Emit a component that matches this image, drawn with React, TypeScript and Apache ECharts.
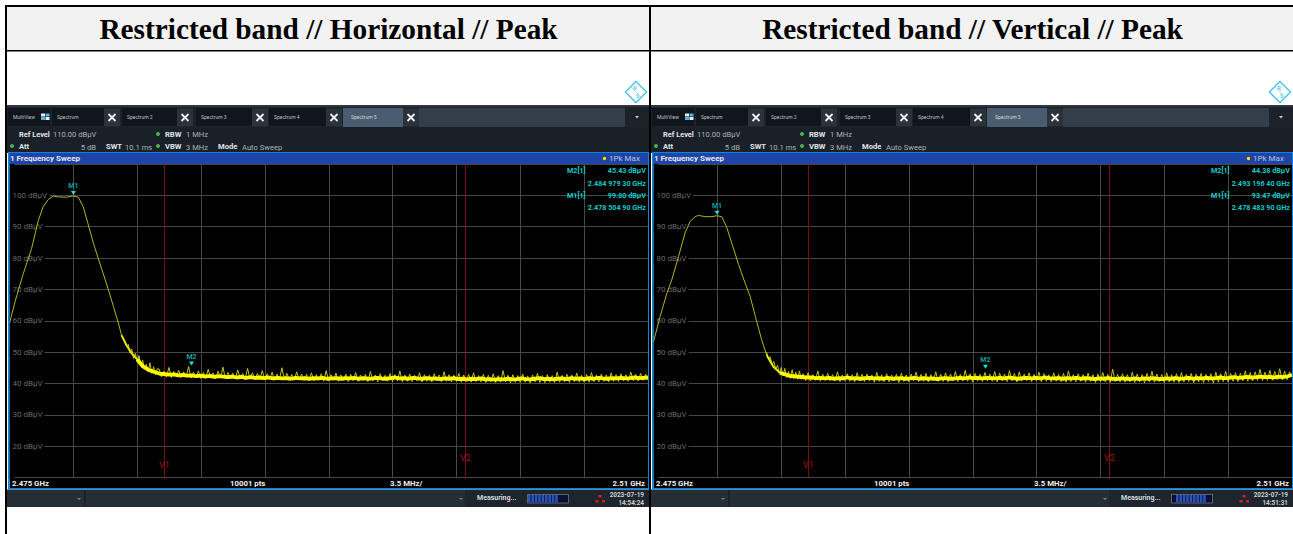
import React, { useEffect, useRef } from "react";
import * as echarts from "echarts";

const yTicks = [20, 30, 40, 50, 60, 70, 80, 90, 100];
const v1Mhz = 8.5;
const v2Mhz = 25;

// Left panel: slow thin part of the trace
const leftTraceMhz = [0, 0.1, 0.3, 0.76, 1.21, 1.58, 1.85, 2.13, 2.4, 2.67, 3.13, 3.46, 3.77, 4.04, 4.3, 4.6, 4.86, 5.14, 5.4, 5.7, 6, 6.14];
const leftTraceDb = [59.1, 61.5, 66, 75.1, 83, 92, 96.4, 98.7, 99.8, 99.5, 99.4, 99.8, 99.4, 96.4, 91, 84.7, 80, 75, 70.3, 64.5, 58.6, 55.4];
const leftTailMhz = [6.14, 6.41, 6.7, 7, 7.3, 7.6, 7.87, 8.25];
const leftTailDb = [55.4, 52.2, 49.6, 47.7, 45.5, 44.4, 43.8, 43.1];
const leftTailSpikeMhz = [6.5, 6.6, 6.7, 6.8, 6.9, 7, 7.1, 7.2, 7.3, 7.4, 7.5, 7.6, 7.7, 7.8, 7.9, 8, 8.1];
const leftTailSpikeDb = [52.6, 49.8, 51, 48, 49.6, 46.8, 48.9, 45.6, 47.4, 44.6, 46.1, 43.8, 46.6, 43.2, 45.3, 42.7, 44.7];
// Left panel: bright band, 8.25 to 35 MHz, evenly spread
const leftBandDb = [
  43.0, 42.8, 42.9, 42.6, 42.7, 42.5, 42.6, 42.3, 42.5, 42.2, 42.4, 42.1, 42.3, 42.2, 42.0, 42.2, 41.9, 42.1, 41.8, 42.0,
  41.8, 41.9, 41.7, 41.9, 41.6, 41.8, 41.6, 41.7, 41.5, 41.8, 41.6, 41.7, 41.5, 41.7, 41.6, 41.8, 41.5, 41.6, 41.7, 41.5,
  41.7, 41.6, 41.8, 41.5, 41.7, 41.5, 41.6, 41.8, 41.6, 41.5, 41.7, 41.9, 41.6, 41.7, 41.5, 41.8, 41.6, 41.5, 41.7, 41.5,
  41.6, 41.4, 41.6, 41.5, 41.7, 41.4, 41.5, 41.3, 41.5, 41.4, 41.6, 41.3, 41.4, 41.2, 41.4, 41.3, 41.5, 41.3, 41.4, 41.6,
  41.4, 41.3, 41.5, 41.7, 41.4, 41.5, 41.3, 41.5, 41.6, 41.4, 41.7, 41.5, 41.6, 41.4, 41.7, 41.5, 41.8, 41.6, 41.5, 41.7,
  41.6, 41.8, 41.6, 41.7, 41.9, 41.7, 41.8, 41.9,
];
// Left panel: thin noise spikes around the band, 8.2 to 35 MHz, evenly spread
const leftSpikeDb = [
  44.6, 42.1, 43.9, 42.0, 45.1, 41.9, 43.8, 42.3, 44.2, 41.8, 43.7, 42.0, 45.4, 41.7, 43.6, 41.9, 44.0, 41.6, 43.5, 41.8,
  44.5, 41.7, 43.4, 41.5, 43.9, 41.8, 45.2, 41.4, 43.5, 41.7, 43.3, 41.4, 44.3, 41.6, 43.2, 41.3, 44.8, 41.5, 43.4, 41.2,
  43.2, 41.4, 44.1, 41.2, 43.1, 41.3, 43.6, 41.0, 43.0, 41.2, 45.0, 41.1, 43.2, 41.3, 42.9, 41.0, 43.7, 41.2, 43.0, 40.9,
  42.9, 41.1, 43.4, 40.8, 42.8, 41.0, 43.1, 40.7, 44.1, 40.9, 42.8, 41.0, 43.3, 40.7, 42.7, 40.9, 43.0, 40.6, 42.9, 40.8,
  43.5, 40.7, 42.7, 40.9, 42.9, 40.6, 43.8, 40.8, 42.7, 40.5, 43.1, 40.8, 42.6, 40.7, 43.2, 40.6, 42.8, 40.8, 44.0, 40.5,
  42.7, 40.7, 43.0, 40.6, 42.6, 40.8, 43.4, 40.5, 42.8, 40.7, 42.6, 40.5, 43.1, 40.8, 42.7, 40.6, 43.7, 40.7, 42.8, 40.5,
  42.6, 40.7, 43.2, 40.4, 42.7, 40.6, 42.9, 40.4, 43.4, 40.6, 42.5, 40.5, 42.9, 40.3, 42.6, 40.5, 43.1, 40.3, 42.5, 40.4,
  44.1, 40.5, 42.6, 40.2, 42.8, 40.4, 42.5, 40.3, 43.0, 40.4, 42.4, 40.2, 42.7, 40.5, 43.2, 40.3, 42.5, 40.2, 42.8, 40.4,
  42.5, 40.3, 43.6, 40.4, 42.6, 40.5, 42.9, 40.3, 42.7, 40.6, 43.3, 40.4, 42.6, 40.5, 42.9, 40.4, 43.5, 40.6, 42.7, 40.5,
  43.0, 40.7, 42.7, 40.5, 43.4, 40.7, 42.8, 40.6, 43.1, 40.8, 42.8, 40.7, 43.6, 40.9, 42.9, 40.8, 43.2, 41.0, 43.0, 41.0,
];

// Right panel
const rightTraceMhz = [0, 0.36, 0.73, 1, 1.37, 1.73, 2, 2.28, 2.46, 2.83, 3.2, 3.47, 3.74, 4, 4.3, 4.66, 4.96, 5.3, 5.66, 5.93, 6.2];
const rightTraceDb = [53.3, 61.3, 68.7, 73, 80.5, 88, 91.6, 93.2, 93.6, 93.2, 93.2, 93.5, 93.2, 90, 84.6, 78, 73, 67.7, 59.7, 53.9, 49.1];
const rightTailMhz = [6.2, 6.57, 6.93, 7.48, 8.4];
const rightTailDb = [49.1, 45.3, 43.4, 42.4, 41.9];
const rightTailSpikeMhz = [6.2, 6.3, 6.4, 6.5, 6.6, 6.7, 6.8, 6.9, 7, 7.1, 7.2, 7.3, 7.4, 7.5, 7.6, 7.7, 7.8, 7.9, 8, 8.1];
const rightTailSpikeDb = [50, 47.8, 48.5, 46, 47, 44.6, 45.8, 43.2, 45.1, 42.4, 44.8, 41.9, 43.9, 41.6, 44.4, 41.5, 43.6, 41.3, 44, 41.3];
const rightBandDb = [
  41.9, 41.7, 41.8, 41.6, 41.8, 41.5, 41.7, 41.6, 41.9, 41.6, 41.7, 41.5, 41.7, 41.8, 41.6, 41.7, 41.5, 41.8, 41.5, 41.6,
  41.7, 41.5, 41.6, 41.8, 41.5, 41.7, 41.5, 41.6, 41.4, 41.6, 41.7, 41.5, 41.6, 41.8, 41.6, 41.9, 41.7, 41.8, 41.6, 41.8,
  41.7, 41.6, 41.8, 41.6, 41.9, 41.7, 41.5, 41.7, 41.8, 41.6, 41.8, 41.6, 41.9, 41.7, 41.6, 41.7, 41.5, 41.7, 41.6, 41.8,
  41.5, 41.7, 41.6, 41.4, 41.6, 41.5, 41.7, 41.5, 41.4, 41.6, 41.5, 41.4, 41.6, 41.4, 41.6, 41.5, 41.7, 41.5, 41.4, 41.6,
  41.5, 41.7, 41.5, 41.6, 41.8, 41.5, 41.7, 41.6, 41.8, 41.6, 41.7, 41.9, 41.7, 41.8, 42.0, 41.8, 41.9, 42.1, 41.9, 42.0,
  42.2, 42.0, 42.1, 41.9, 42.2, 42.0, 42.3, 42.7,
];
const rightSpikeDb = [
  43.1, 40.9, 43.4, 40.8, 42.8, 41.0, 44.0, 40.7, 42.9, 41.0, 43.2, 40.8, 42.8, 40.9, 43.7, 40.6, 42.7, 40.9, 43.1, 40.7,
  42.8, 40.5, 43.4, 40.8, 42.9, 40.6, 43.0, 40.8, 42.7, 40.4, 43.5, 40.7, 42.8, 40.6, 43.1, 40.5, 42.7, 40.8, 42.9, 40.3,
  43.3, 40.7, 42.7, 40.5, 43.0, 40.8, 43.6, 40.6, 42.9, 40.7, 43.2, 40.5, 42.8, 40.9, 43.7, 40.6, 43.0, 40.7, 43.4, 40.5,
  43.0, 40.8, 43.8, 40.6, 42.9, 40.8, 44.2, 40.7, 43.1, 40.4, 43.2, 40.8, 42.9, 40.6, 43.5, 40.8, 43.0, 40.7, 43.8, 40.5,
  43.3, 40.8, 43.0, 40.6, 44.1, 40.8, 43.2, 40.5, 43.7, 40.7, 43.0, 40.9, 43.4, 40.6, 42.9, 40.8, 43.6, 40.5, 43.1, 40.7,
  42.8, 40.5, 43.4, 40.7, 42.9, 40.6, 43.2, 40.4, 44.0, 40.6, 42.8, 40.5, 43.1, 40.7, 42.8, 40.4, 43.3, 40.6, 42.8, 40.3,
  43.0, 40.6, 43.5, 40.5, 42.9, 40.3, 44.6, 40.6, 42.9, 40.5, 43.1, 40.4, 42.8, 40.5, 43.6, 40.3, 43.0, 40.5, 42.8, 40.2,
  43.2, 40.5, 43.9, 40.4, 43.0, 40.6, 42.9, 40.3, 43.4, 40.5, 42.8, 40.4, 43.1, 40.3, 43.5, 40.5, 42.9, 40.6, 43.2, 40.2,
  43.0, 40.5, 43.2, 40.3, 42.9, 40.6, 43.1, 40.1, 43.6, 40.4, 43.1, 40.6, 43.9, 40.5, 43.2, 40.7, 43.4, 40.6, 43.3, 40.8,
  44.0, 40.7, 43.5, 40.8, 43.7, 41.0, 44.5, 40.9, 43.6, 41.0, 44.2, 41.0, 43.8, 41.2, 44.7, 41.1, 43.9, 41.2, 43.7, 42.0,
];

const leftM1 = [3.505, 99.8];
const leftM2 = [9.979, 45.43];
const rightM1 = [3.484, 93.47];
const rightM2 = [18.196, 44.38];

const tabNames = ["Spectrum", "Spectrum 2", "Spectrum 3", "Spectrum 4"];

const UI = "Roboto, 'Noto Sans', sans-serif";
const SERIF = "'Liberation Serif', serif";
const CYAN = "#10c8c8";

function txt(x: number, y: number, text: string, fontSize: number, fill: string, extra: any = {}) {
  return {
    type: "text",
    x,
    y,
    z: 100,
    silent: true,
    style: { text, fontSize, fill, fontFamily: UI, textVerticalAlign: "middle", verticalAlign: "middle", ...extra },
  };
}
function box(x: number, y: number, width: number, height: number, fill: string, z = 5) {
  return { type: "rect", z, silent: true, shape: { x, y, width, height }, style: { fill } };
}
function seg(x1: number, y1: number, x2: number, y2: number, stroke: string, lineWidth = 1, z = 6) {
  return { type: "line", z, silent: true, shape: { x1, y1, x2, y2 }, style: { stroke, lineWidth } };
}
function closeX(cx: number, cy: number) {
  return [
    box(cx - 8, cy - 9, 16, 18, "#2a333b"),
    seg(cx - 3.5, cy - 3.5, cx + 3.5, cy + 3.5, "#f0f0f0", 1.8),
    seg(cx + 3.5, cy - 3.5, cx - 3.5, cy + 3.5, "#f0f0f0", 1.8),
  ];
}

function chrome(dx: number, m: { m2: string; m2f: string; m1: string; m1f: string; time: string; blueFrom: number; blueTo: number }) {
  const bold = { fontWeight: "bold" };
  const out: any[] = [
    box(dx + 7, 105, 642, 2, "#30363b"),
    box(dx + 7, 107, 642, 20, "#1b2229"),
    box(dx + 8, 108, 42, 18, "#11161c"),
    txt(dx + 13, 117, "MultiView", 5, "#b9c0c6"),
    box(dx + 41, 113.5, 4, 3, "#e8eef4", 6),
    box(dx + 45.5, 113.5, 4, 3, "#4fb4e8", 6),
    box(dx + 41, 117, 4, 3, "#4fb4e8", 6),
    box(dx + 45.5, 117, 4, 3, "#e8eef4", 6),
    box(dx + 343, 108, 60, 19, "#4a5d70"),
    box(dx + 419, 108, 206, 19, "#323e49"),
    txt(dx + 351, 117, "Spectrum 5", 5, "#d0d6dc"),
    ...closeX(dx + 411, 117.5),
    { type: "polygon", z: 6, silent: true, shape: { points: [[dx + 635, 116], [dx + 639, 116], [dx + 637, 118.5]] }, style: { fill: "#c8d0d6" } },
    // info rows
    box(dx + 7, 127, 642, 26, "#1a2027"),
    txt(dx + 19, 134, "Ref Level", 7.4, "#e0e4e8", bold),
    txt(dx + 53, 134, "110.00 dBµV", 7.6, "#a9b0b6"),
    { type: "circle", z: 6, silent: true, shape: { cx: dx + 158, cy: 134, r: 2 }, style: { fill: "#49b04f" } },
    txt(dx + 165, 134, "RBW", 7.6, "#e0e4e8", bold),
    txt(dx + 186, 134, "1 MHz", 7.6, "#a9b0b6"),
    { type: "circle", z: 6, silent: true, shape: { cx: dx + 12, cy: 146, r: 2 }, style: { fill: "#49b04f" } },
    txt(dx + 19, 146, "Att", 7.6, "#e0e4e8", bold),
    txt(dx + 96, 147, "5 dB", 7.6, "#a9b0b6", { align: "right", textAlign: "right" }),
    txt(dx + 106, 146, "SWT", 7.6, "#e0e4e8", bold),
    txt(dx + 125, 147, "10.1 ms", 7.6, "#a9b0b6"),
    { type: "circle", z: 6, silent: true, shape: { cx: dx + 158, cy: 146, r: 2 }, style: { fill: "#49b04f" } },
    txt(dx + 165, 146, "VBW", 7.6, "#e0e4e8", bold),
    txt(dx + 186, 147, "3 MHz", 7.6, "#a9b0b6"),
    txt(dx + 218, 146, "Mode", 7.6, "#e0e4e8", bold),
    txt(dx + 242, 147, "Auto Sweep", 7.6, "#a9b0b6"),
    // blue frame and title bar
    box(dx + 8, 152, 641, 12, "#1f44a8"),
    box(dx + 8, 152, 641, 1, "#0a87dc", 7),
    box(dx + 8, 152, 1.5, 337, "#0a87dc", 7),
    box(dx + 648, 152, 1.5, 337, "#0a87dc", 7),
    box(dx + 8, 488, 641, 1.5, "#0a87dc", 7),
    box(dx + 9.5, 478, 638.5, 10, "#000000"),
    txt(dx + 10, 158.5, "1 Frequency Sweep", 8, "#e4e8ee", bold),
    { type: "circle", z: 6, silent: true, shape: { cx: dx + 604.5, cy: 158.5, r: 2 }, style: { fill: "#f4e23a", stroke: "#111", lineWidth: 0.5 } },
    txt(dx + 609, 158.5, "1Pk Max", 8, "#b8c0d8"),
    // marker readout
    txt(dx + 567, 170.5, "M2[1]", 7.2, CYAN, bold),
    txt(dx + 646, 170.5, m.m2, 7.2, CYAN, { ...bold, align: "right", textAlign: "right" }),
    txt(dx + 646, 183, m.m2f, 7.2, CYAN, { ...bold, align: "right", textAlign: "right" }),
    txt(dx + 567, 195, "M1[1]", 7.2, CYAN, bold),
    txt(dx + 646, 195, m.m1, 7.2, CYAN, { ...bold, align: "right", textAlign: "right" }),
    txt(dx + 646, 207, m.m1f, 7.2, CYAN, { ...bold, align: "right", textAlign: "right" }),
    // vertical line names
    txt(dx + 159, 465, "V1", 9, "#9c1616"),
    txt(dx + 460, 458, "V2", 9, "#9c1616"),
    // bottom of the diagram
    txt(dx + 12, 483.5, "2.475 GHz", 7.8, "#f0f0f0", bold),
    txt(dx + 230, 483.5, "10001 pts", 7.8, "#f0f0f0", bold),
    txt(dx + 390, 483.5, "3.5 MHz/", 7.8, "#f0f0f0", bold),
    txt(dx + 645, 483.5, "2.51 GHz", 7.8, "#f0f0f0", { ...bold, align: "right", textAlign: "right" }),
    // status bar
    box(dx + 7, 489.5, 642, 17.5, "#252d35"),
    box(dx + 84, 490, 2, 17, "#1b2127"),
    box(dx + 465, 490, 184, 17, "#1e252c"),
    { type: "polygon", z: 6, silent: true, shape: { points: [[dx + 77, 498], [dx + 81, 498], [dx + 79, 500]] }, style: { fill: "#77808a" } },
    { type: "polygon", z: 6, silent: true, shape: { points: [[dx + 459, 498], [dx + 463, 498], [dx + 461, 500]] }, style: { fill: "#77808a" } },
    txt(dx + 477, 498, "Measuring...", 7, "#d4d8dc", bold),
    box(dx + 527, 494, 42, 9.5, "#59626c"),
    box(dx + 528, 495, 40, 7.5, "#0c0f30", 6),
    box(dx + 598.5, 495, 3, 2.5, "#d81c1c"),
    box(dx + 595.5, 500, 3, 2.5, "#d81c1c"),
    box(dx + 602, 500, 3, 2.5, "#d81c1c"),
    txt(dx + 644, 494.5, "2023-07-19", 6.4, "#c8ccd0", { ...bold, align: "right", textAlign: "right" }),
    txt(dx + 644, 502.5, m.time, 6.4, "#c8ccd0", { ...bold, align: "right", textAlign: "right" }),
    // logo
    { type: "polygon", z: 6, silent: true, shape: { points: [[dx + 636, 81.5], [dx + 646.5, 92], [dx + 636, 102.5], [dx + 625.5, 92]] }, style: { fill: "none", stroke: "#5cc6ec", lineWidth: 1.6 } },
    seg(dx + 630.5, 86.5, dx + 641.5, 97.5, "#a9e0f4", 1),
    txt(dx + 635, 87.5, "R", 5, "#5cc6ec", { ...bold, align: "center", textAlign: "center" }),
    txt(dx + 637.5, 96, "S", 5, "#5cc6ec", { ...bold, align: "center", textAlign: "center" }),
  ];
  for (let s = m.blueFrom; s + 2.6 <= m.blueTo; s += 3.4) {
    out.push(box(dx + s, 495, 2.6, 7.5, "#2a52b8", 7));
  }
  for (let i = 0; i < tabNames.length; i++) {
    const xs = [52, 122, 196, 269][i];
    const xe = [104, 177, 252, 326][i];
    out.push(box(dx + xs, 108, xe - xs, 18, "#11161c"));
    out.push(txt(dx + xs + 5, 117, tabNames[i], 5, "#b9c0c6"));
    out.push(...closeX(dx + xe + 8, 117.5));
  }
  return out;
}

function evenly(start: number, end: number, values: number[]) {
  return values.map((v, i) => [start + ((end - start) * i) / (values.length - 1), v]);
}
function pairs(a: number[], b: number[]) {
  return a.map((v, i) => [v, b[i]]);
}

function panelSeries(idx: number, p: any) {
  const base = { type: "line", xAxisIndex: idx, yAxisIndex: idx, symbol: "none", silent: true, animation: false };
  const mark = (c: number[], name: string) => ({
    coord: c,
    name,
    symbol: "triangle",
    symbolRotate: 180,
    symbolSize: [5, 4],
    symbolOffset: [0, -3],
    itemStyle: { color: "#18e0e0" },
    label: { show: true, formatter: name, position: "top", distance: 1, fontSize: 7, color: "#0aa0a0", fontFamily: UI, fontWeight: "bold" },
  });
  const tail = pairs(p.tailMhz, p.tailDb);
  return [
    { ...base, data: [[v1Mhz, 10], [v1Mhz, 110]], lineStyle: { color: "#7c1414", width: 1 }, z: 1 },
    { ...base, data: [[v2Mhz, 10], [v2Mhz, 110]], lineStyle: { color: "#7c1414", width: 1 }, z: 1 },
    { ...base, data: pairs(p.traceMhz, p.traceDb), lineStyle: { color: "#b4b41c", width: 1 }, z: 3 },
    { ...base, data: pairs(p.tailSpikeMhz, p.tailSpikeDb).concat(evenly(8.2, 35, p.spikeDb)), lineStyle: { color: "#c4c410", width: 1 }, z: 3 },
    { ...base, data: tail.slice(0, p.tailSplit + 1), lineStyle: { color: "#e8e800", width: 2 }, z: 4 },
    {
      ...base,
      data: tail.slice(p.tailSplit).concat(evenly(p.tailMhz[p.tailMhz.length - 1] + 0.25, 35, p.bandDb)),
      lineStyle: { color: "#ffff00", width: 3.8, join: "round" },
      z: 4,
      markPoint: { silent: true, data: [mark(p.m1, "M1"), mark(p.m2, "M2")] },
    },
  ];
}

const leftPanel = {
  traceMhz: leftTraceMhz, traceDb: leftTraceDb, tailMhz: leftTailMhz, tailDb: leftTailDb, tailSplit: 3,
  tailSpikeMhz: leftTailSpikeMhz, tailSpikeDb: leftTailSpikeDb, bandDb: leftBandDb, spikeDb: leftSpikeDb, m1: leftM1, m2: leftM2,
};
const rightPanel = {
  traceMhz: rightTraceMhz, traceDb: rightTraceDb, tailMhz: rightTailMhz, tailDb: rightTailDb, tailSplit: 2,
  tailSpikeMhz: rightTailSpikeMhz, tailSpikeDb: rightTailSpikeDb, bandDb: rightBandDb, spikeDb: rightSpikeDb, m1: rightM1, m2: rightM2,
};

export default function App() {
  const ref = useRef<HTMLDivElement>(null);
  useEffect(() => {
    const chart = echarts.init(ref.current!, null, { renderer: "svg" });
    const xAxisOf = (i: number) => ({
      type: "value", gridIndex: i, min: 0, max: 35, interval: 3.5,
      axisLabel: { show: false }, axisTick: { show: false }, axisLine: { show: false },
      splitLine: { show: true, lineStyle: { color: "#484848", width: 1 } },
    });
    const yAxisOf = (i: number) => ({
      type: "value", gridIndex: i, min: 10, max: 110, interval: 10,
      axisTick: { show: false }, axisLine: { show: false },
      splitLine: { show: true, lineStyle: { color: "#484848", width: 1 } },
      axisLabel: {
        inside: true, margin: 0, fontSize: 8, color: "#686868", fontFamily: UI,
        backgroundColor: "#000", padding: [1, 2, 1, 3],
        formatter: (v: number) => (yTicks.includes(v) ? `${v} dBµV` : ""),
      },
    });
    const tableParts = [
      box(7, 7, 642, 43, "#f2f2f2", 1),
      box(651, 7, 642, 43, "#f2f2f2", 1),
      box(5, 5, 1288, 2, "#000000", 8),
      box(5, 50, 1288, 1.6, "#000000", 8),
      box(5, 5, 2, 529, "#000000", 8),
      box(649, 5, 2, 529, "#000000", 8),
      { type: "text", x: 328.5, y: 29, z: 100, silent: true, style: { text: "Restricted band // Horizontal // Peak", fontSize: 29.3, fontWeight: "bold", fontFamily: SERIF, fill: "#000", align: "center", textAlign: "center", verticalAlign: "middle", textVerticalAlign: "middle" } },
      { type: "text", x: 972.5, y: 29, z: 100, silent: true, style: { text: "Restricted band // Vertical // Peak", fontSize: 29.3, fontWeight: "bold", fontFamily: SERIF, fill: "#000", align: "center", textAlign: "center", verticalAlign: "middle", textVerticalAlign: "middle" } },
    ];
    chart.setOption({
      animation: false,
      backgroundColor: "#ffffff",
      grid: [
        { left: 9.5, top: 164, width: 638.5, height: 313.5, show: true, backgroundColor: "#000", borderWidth: 0 },
        { left: 653.5, top: 164, width: 638.5, height: 313.5, show: true, backgroundColor: "#000", borderWidth: 0 },
      ],
      xAxis: [xAxisOf(0), xAxisOf(1)],
      yAxis: [yAxisOf(0), yAxisOf(1)],
      graphic: {
        elements: [
          ...tableParts,
          ...chrome(0, { m2: "45.43 dBµV", m2f: "2.484 979 30 GHz", m1: "99.80 dBµV", m1f: "2.478 504 90 GHz", time: "14:54:24", blueFrom: 528, blueTo: 559 }),
          ...chrome(644, { m2: "44.38 dBµV", m2f: "2.493 196 40 GHz", m1: "93.47 dBµV", m1f: "2.478 483 90 GHz", time: "14:51:31", blueFrom: 532, blueTo: 564 }),
        ],
      },
      series: [...panelSeries(0, leftPanel), ...panelSeries(1, rightPanel)],
    });
    return () => chart.dispose();
  }, []);
  return <div ref={ref} style={{ position: "absolute", left: 0, top: 0, width: 1293, height: 534 }} />;
}
